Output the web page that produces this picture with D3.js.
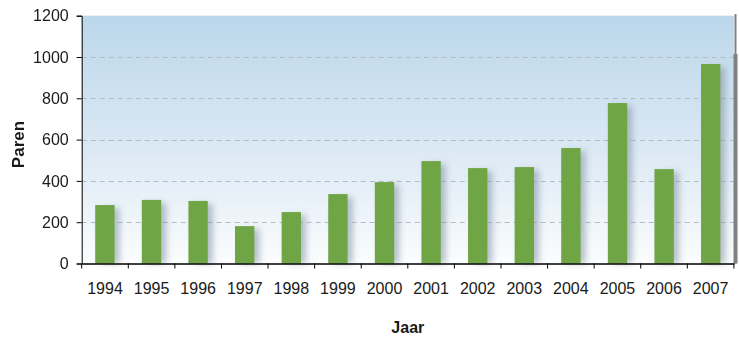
<!DOCTYPE html>
<html><head><meta charset="utf-8">
<script src="https://d3js.org/d3.v7.min.js"></script>
<style>body{margin:0;background:#fff}svg{display:block}text{font-family:"Liberation Sans",Arial,sans-serif;fill:#1a1a1a}</style>
</head><body>
<script>
const years = ["1994","1995","1996","1997","1998","1999","2000","2001","2002","2003","2004","2005","2006","2007"];
const paren = [283,308,303,181,249,336,394,496,462,467,559,777,457,966];
const yTicks = [0,200,400,600,800,1000,1200];
const gridTicks = [200,400,600,800,1000];

const W=739,H=337;
const m={l:81.7,r:5.1,t:15.7,b:73.5};
const svg=d3.select("body").append("svg").attr("width",W).attr("height",H);
const defs=svg.append("defs");
const g1=defs.append("linearGradient").attr("id","bg").attr("x1",0).attr("y1",0).attr("x2",0).attr("y2",1);
g1.append("stop").attr("offset","0%").attr("stop-color","#bbd7eb");
g1.append("stop").attr("offset","55%").attr("stop-color","#dce9f4");
g1.append("stop").attr("offset","100%").attr("stop-color","#fbfdfe");
const f=defs.append("filter").attr("id","sh").attr("x","-50%").attr("y","-20%").attr("width","200%").attr("height","140%");
f.append("feGaussianBlur").attr("stdDeviation",3);

const x=d3.scaleBand().domain(years).range([m.l,W-m.r]).paddingInner(0.585).paddingOuter(0.29);
const xt=d3.scaleBand().domain(years).range([m.l,W-m.r]);
const y=d3.scaleLinear().domain([0,1200]).range([H-m.b,m.t]);

svg.append("rect").attr("x",m.l).attr("y",m.t).attr("width",W-m.r-m.l).attr("height",H-m.b-m.t).attr("fill","url(#bg)");

// grid
svg.append("g").selectAll("line").data(gridTicks).join("line")
 .attr("x1",m.l).attr("x2",W-m.r).attr("y1",d=>Math.round(y(d))+0.5).attr("y2",d=>Math.round(y(d))+0.5)
 .attr("stroke","#b4bcc2").attr("stroke-width",1).attr("stroke-dasharray","5,4");

// shadows
svg.append("g").attr("filter","url(#sh)").selectAll("rect").data(years).join("rect")
 .attr("x",(d)=>x(d)+5).attr("y",(d,i)=>y(paren[i])+3).attr("width",x.bandwidth())
 .attr("height",(d,i)=>y(0)-y(paren[i])-3).attr("fill","#8796a8").attr("opacity",0.6);

// bars
svg.append("g").selectAll("rect").data(years).join("rect")
 .attr("x",d=>x(d)).attr("y",(d,i)=>y(paren[i])).attr("width",x.bandwidth())
 .attr("height",(d,i)=>y(0)-y(paren[i])).attr("fill","#6fa544");

// right gray bar
svg.append("rect").attr("x",734.5).attr("y",14).attr("width",2).attr("height",y(0)-14).attr("fill","#808080");
svg.append("rect").attr("x",733.5).attr("y",y(1000)-3).attr("width",4).attr("height",y(0)-y(1000)+3).attr("fill","#808080");

// axes
const ya=svg.append("g").attr("transform",`translate(${m.l},0)`)
 .call(d3.axisLeft(y).tickValues(yTicks).tickFormat(d3.format("d")).tickSize(5).tickPadding(8));
ya.select(".domain").attr("stroke","#000");
ya.selectAll(".tick line").attr("stroke","#000");
ya.selectAll("text").style("font-size","16px").attr("fill","#1a1a1a");

const xa=svg.append("g").attr("transform",`translate(0,${y(0)})`)
 .call(d3.axisBottom(xt).tickSize(5).tickSizeOuter(0).tickPadding(14));
xa.selectAll(".tick line").attr("transform",`translate(${-xt.bandwidth()/2},0)`).attr("stroke","#000");
xa.select(".domain").attr("stroke","#000").attr("stroke-width",1.5);
xa.selectAll("text").style("font-size","16px").attr("fill","#1a1a1a");
xa.append("line").attr("x1",W-m.r).attr("x2",W-m.r).attr("y1",0).attr("y2",5).attr("stroke","#000");

svg.append("text").attr("x",(m.l+W-m.r)/2).attr("y",333).attr("text-anchor","middle")
 .style("font-size","16px").style("font-weight","bold").text("Jaar");
svg.append("text").attr("transform",`translate(24,144.5) rotate(-90)`).attr("text-anchor","middle")
 .style("font-size","17px").style("font-weight","bold").text("Paren");
</script>
</body></html>
